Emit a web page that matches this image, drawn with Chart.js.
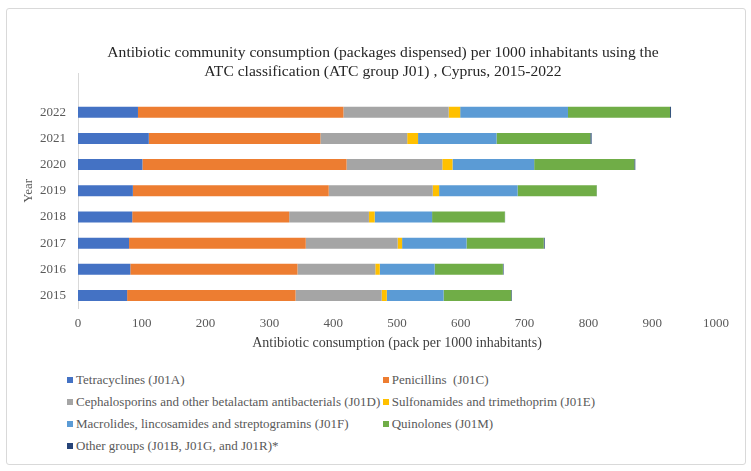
<!DOCTYPE html>
<html>
<head>
<meta charset="utf-8">
<script src="https://cdn.jsdelivr.net/npm/chart.js@4/dist/chart.umd.min.js"></script>
<style>
    body { margin: 0; background: #fff; overflow: hidden; font-family: "Liberation Serif", "Times New Roman", serif; }
    #frame { position: absolute; left: 6px; top: 8px; width: 738px; height: 455px; border: 1px solid #d9d9d9; border-radius: 3px; }
    #wrap { position: absolute; left: 0; top: 0; width: 751px; height: 360px; }
    #title { position: absolute; left: 100px; top: 43px; width: 566px; text-align: center; white-space: nowrap;
             font-size: 15.6px; line-height: 18.5px; color: #262626; }
    #legend { position: absolute; left: 67px; top: 371px; width: 680px; color: #595959; font-size: 13px; }
    .item { position: absolute; white-space: pre; line-height: 18px; }
    .box { display: inline-block; width: 6px; height: 6px; margin-right: 3px; vertical-align: 1px; }
</style>
</head>
<body>
<div id="frame"></div>
<div id="wrap"><canvas id="chart"></canvas></div>
<div id="title"></div>
<div id="legend"></div>
<script>
// values, 2015 -> 2022
const years = ["2015", "2016", "2017", "2018", "2019", "2020", "2021", "2022"];
const tetracyclines = [77, 82, 80, 85, 86, 101, 111, 94];
const penicillins = [264, 262, 277, 246, 307, 320, 269, 322];
const cephalosporins = [135, 122, 144, 125, 163, 150, 136, 165];
const sulfonamides = [8, 7, 7, 9, 10, 16, 17, 18];
const macrolides = [89, 86, 101, 90, 123, 128, 123, 169];
const quinolones = [106, 107, 121, 114, 124, 157, 147, 160];
const otherGroups = [1, 1, 1.5, 0.4, 0.4, 1.5, 2, 1.5];

const groupNames = [
    "Tetracyclines (J01A)",
    "Penicillins  (J01C)",
    "Cephalosporins and other betalactam antibacterials (J01D)",
    "Sulfonamides and trimethoprim (J01E)",
    "Macrolides, lincosamides and streptogramins (J01F)",
    "Quinolones (J01M)",
    "Other groups (J01B, J01G, and J01R)*"
];
const groupColors = ["#4472C4", "#ED7D31", "#A5A5A5", "#FFC000", "#5B9BD5", "#70AD47", "#264478"];
const xTicks = [0, 100, 200, 300, 400, 500, 600, 700, 800, 900, 1000];
const titleLines = [
    "Antibiotic community consumption (packages dispensed) per 1000 inhabitants using the",
    "ATC classification (ATC group J01) , Cyprus, 2015-2022"
];

// the original has an empty row above 2022, newest year on top
const labels = [""].concat(years.slice().reverse());
function toRows(arr) {
    return [null].concat(arr.slice().reverse());
}

const series = [tetracyclines, penicillins, cephalosporins, sulfonamides, macrolides, quinolones, otherGroups];
const datasets = series.map((arr, i) => ({
    label: groupNames[i],
    data: toRows(arr),
    backgroundColor: groupColors[i],
    borderWidth: 0,
    barPercentage: 0.42,
    categoryPercentage: 1
}));

const serif = "'Liberation Serif', 'Times New Roman', serif";

const chart = new Chart(document.getElementById("chart"), {
    type: "bar",
    data: { labels: labels, datasets: datasets },
    options: {
        indexAxis: "y",
        responsive: true,
        maintainAspectRatio: false,
        animation: false,
        layout: { padding: { left: 6, right: 35, top: 73, bottom: 8 } },
        plugins: {
            legend: { display: false },
            tooltip: { enabled: false },
            title: { display: false }
        },
        scales: {
            x: {
                stacked: true,
                min: 0,
                max: 1000,
                afterBuildTicks: (axis) => { axis.ticks = xTicks.map(v => ({ value: v })); },
                grid: { display: false, drawTicks: false },
                border: { display: false },
                ticks: {
                    color: "#595959",
                    padding: 7,
                    font: { family: serif, size: 13 },
                    callback: (v) => String(v)
                },
                title: {
                    display: true,
                    text: "Antibiotic consumption (pack per 1000 inhabitants)",
                    color: "#404040",
                    font: { family: serif, size: 14 },
                    padding: { top: -3, bottom: 0 }
                }
            },
            y: {
                stacked: true,
                afterFit: (axis) => { axis.width = 72; },
                grid: { display: false, drawTicks: false },
                border: { display: true, color: "#d9d9d9", width: 1 },
                ticks: { color: "#595959", padding: 12, font: { family: serif, size: 13 } },
                title: {
                    display: true,
                    text: "Year",
                    color: "#595959",
                    font: { family: serif, size: 13 },
                    padding: { top: 15, bottom: 0 }
                }
            }
        }
    }
});

// title as two centred lines
document.getElementById("title").innerHTML = titleLines.join("<br>");

// two-column legend like the original
function buildLegend() {
    const box = document.getElementById("legend");
    const colX = [0, 315.7];
    const rowY = [0, 22, 44, 66];
    chart.data.datasets.forEach((ds, i) => {
        const item = document.createElement("div");
        item.className = "item";
        item.style.left = colX[i % 2] + "px";
        item.style.top = rowY[Math.floor(i / 2)] + "px";
        item.innerHTML = `<span class="box" style="background:${ds.backgroundColor}"></span>`;
        item.appendChild(document.createTextNode(ds.label));
        box.appendChild(item);
    });
}
buildLegend();
</script>
</body>
</html>
